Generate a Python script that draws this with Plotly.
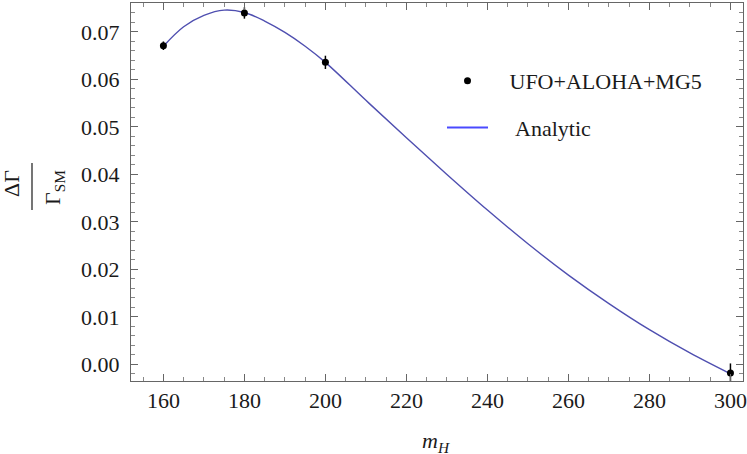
import plotly.graph_objects as go

# MG5 points
mg5_mass = [160, 180, 200, 300]
mg5_ratio = [0.0671, 0.0740, 0.0636, -0.0018]
mg5_err = [0.0009, 0.0012, 0.0014, 0.0020]

# analytic curve
curve_mass = [160, 165, 170, 175, 180, 185, 190, 195, 200, 210, 220, 230,
              240, 250, 260, 270, 280, 290, 300]
curve_ratio = [0.0670, 0.0711, 0.0735, 0.0746, 0.0741, 0.0723, 0.0699, 0.0670,
               0.0636, 0.0556, 0.0477, 0.0400, 0.0325, 0.0254, 0.0188,
               0.0128, 0.0073, 0.0024, -0.0020]

x_ticks = [160, 180, 200, 220, 240, 260, 280, 300]
y_ticks = [0.00, 0.01, 0.02, 0.03, 0.04, 0.05, 0.06, 0.07]
y_tick_text = ["0.00", "0.01", "0.02", "0.03", "0.04", "0.05", "0.06", "0.07"]

W, H = 747, 454
L, R, T, B = 131, 4, 3, 73
PW, PH = W - L - R, H - T - B

def px(x):
    return (x - L) / PW

def py(y):
    return (H - B - y) / PH

FONT = "Liberation Serif"
NB = "\u00a0"

fig = go.Figure()
fig.add_trace(go.Scatter(
    x=curve_mass, y=curve_ratio, mode="lines", line=dict(color="#4f4fb0", width=1.4, shape="spline"),
    showlegend=False, hoverinfo="skip"))
fig.add_trace(go.Scatter(
    x=mg5_mass, y=mg5_ratio, mode="markers", name=NB * 3 + "UFO+ALOHA+MG5",
    marker=dict(color="black", size=7),
    error_y=dict(type="data", array=mg5_err, color="black", thickness=1.5, width=0),
    legendgroup="a", cliponaxis=False))
fig.add_trace(go.Scatter(
    x=[None], y=[None], mode="lines", name=NB * 4 + "Analytic",
    line=dict(color="#4a4aff", width=2), legendgroup="b"))

axis_common = dict(
    showline=True, linecolor="#666666", linewidth=1, mirror="ticks",
    ticks="inside", ticklen=7, tickcolor="#666666", tickwidth=1,
    showgrid=False, zeroline=False, automargin=False,
    tickfont=dict(family=FONT, size=22, color="#1a1a1a"),
)

fig.update_xaxes(range=[152, 303.1], tickvals=x_ticks, ticklabelstandoff=0,
                 minor=dict(ticks="inside", ticklen=4, dtick=5, tickcolor="#888888", showgrid=False),
                 **axis_common)
fig.update_yaxes(range=[-0.0035, 0.0761], tickvals=y_ticks, ticktext=y_tick_text,
                 minor=dict(ticks="inside", ticklen=4, dtick=0.002, tickcolor="#888888", showgrid=False),
                 ticklabelstandoff=6,
                 **axis_common)

fig.update_layout(
    width=W, height=H,
    margin=dict(l=L, r=R, t=T, b=B, autoexpand=False),
    plot_bgcolor="white", paper_bgcolor="white",
    font=dict(family=FONT, size=22, color="#1a1a1a"),
    legend=dict(x=px(442), y=py(60), xanchor="left", yanchor="top",
                bgcolor="rgba(0,0,0,0)", itemwidth=41, traceorder="grouped",
                tracegroupgap=15, font=dict(family=FONT, size=22, color="#1a1a1a")),
    annotations=[
        dict(text="<i>m</i><sub><i>H</i></sub>", x=px(436), y=py(442), xref="paper", yref="paper",
             xanchor="center", yanchor="middle",
             showarrow=False, font=dict(family=FONT, size=22)),
        dict(text="ΔΓ", x=px(11), y=py(184), xref="paper", yref="paper", textangle=-90,
             xanchor="center", yanchor="middle",
             showarrow=False, font=dict(family=FONT, size=22)),
        dict(text="Γ<sub>SM</sub>", x=px(54), y=py(188), xref="paper", yref="paper", textangle=-90,
             xanchor="center", yanchor="middle",
             showarrow=False, font=dict(family=FONT, size=22)),
    ],
    shapes=[dict(type="line", xref="paper", yref="paper", x0=px(32), x1=px(32),
                 y0=py(163), y1=py(210), line=dict(color="#1a1a1a", width=1.2))],
)

fig.write_html("out.html", post_script="document.body.style.margin='0';",
               config={"displayModeBar": False})
